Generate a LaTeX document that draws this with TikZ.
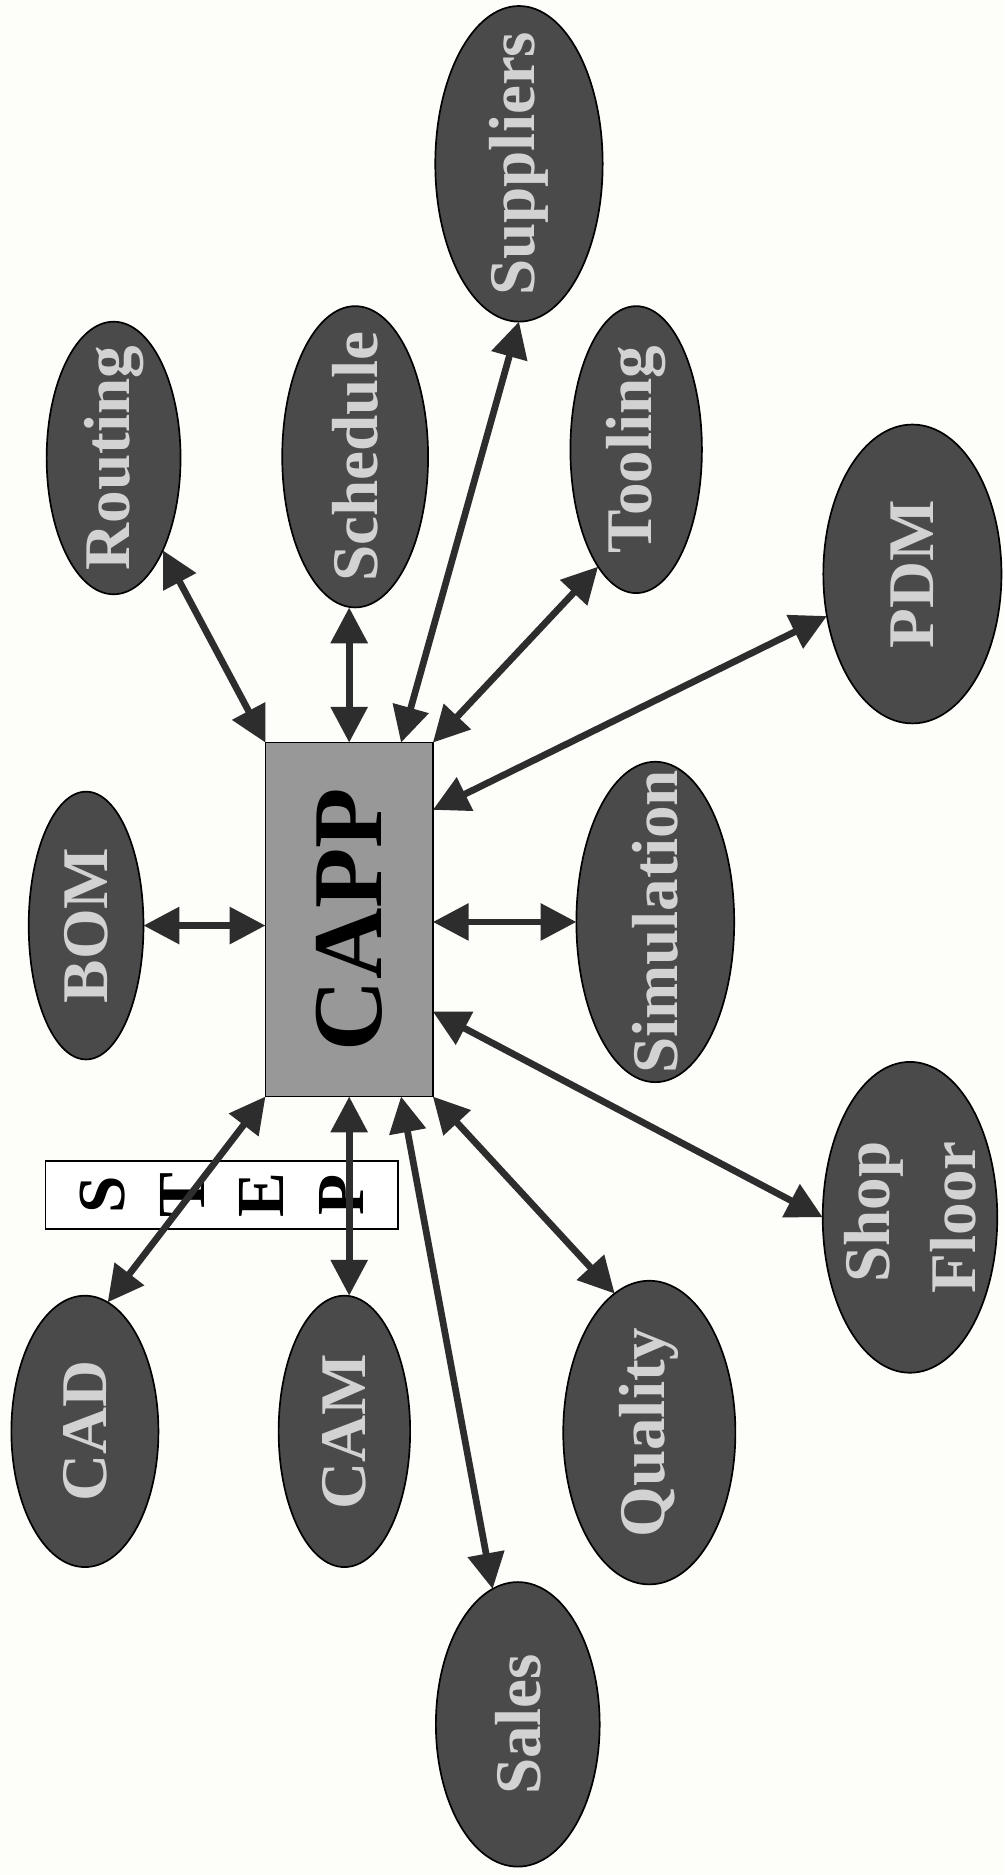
\documentclass[tikz,border=0pt]{standalone}
\usepackage{fontspec}
\setmainfont{Liberation Serif}
\usetikzlibrary{arrows.meta, shapes.geometric, calc}

\definecolor{paper}{RGB}{253,253,250}
\definecolor{ovalfill}{RGB}{74,74,74}
\definecolor{ovaltext}{RGB}{210,210,210}
\definecolor{cappfill}{RGB}{152,152,152}
\definecolor{linkcol}{RGB}{45,45,45}

\begin{document}
\begin{tikzpicture}[
  x=0.02cm, y=-0.02cm,
  oval/.style={ellipse, draw=black, line width=0.8pt, fill=ovalfill,
    inner sep=0pt, outer sep=0pt},
  ovaltxt/.style={rotate=90, text=ovaltext, align=center, inner sep=0pt,
    font=\fontsize{31}{41}\selectfont\bfseries},
  link/.style={<->, >={Triangle[length=0.6cm,width=0.6cm]},
    line width=3.2pt, draw=linkcol}
]

\useasboundingbox[fill=paper] (0,0) rectangle (840,1568);

% ── Centre box and STEP strip ────────────────────────────────────────────────
\node[draw=black, line width=0.8pt, fill=white, rotate=90,
  minimum width=1.14cm, minimum height=5.9cm, inner sep=0pt, align=center,
  font=\fontsize{32}{38}\selectfont\bfseries] (step) at (185.5,999.5) {S\\T\\E\\P};

\node[draw=black, line width=0.8pt, fill=cappfill, outer sep=0pt,
  minimum width=2.8cm, minimum height=5.92cm] (capp) at (292,769) {};
\node[rotate=90, font=\fontsize{47}{52}\selectfont\bfseries] (capp-t) at (capp) {CAPP};

% ── Upper row ────────────────────────────────────────────────────────────────
\node[oval, minimum width=2.24cm, minimum height=4.56cm] (routing) at (95,383) {};
\node[ovaltxt] (routing-t) at (routing) {Routing};

\node[oval, minimum width=2.44cm, minimum height=5.04cm] (schedule) at (297,382) {};
\node[ovaltxt] (schedule-t) at (schedule) {Schedule};

\node[oval, minimum width=2.8cm, minimum height=5.28cm] (suppliers) at (434,137) {};
\node[ovaltxt] (suppliers-t) at (suppliers) {Suppliers};

\node[oval, minimum width=2.2cm, minimum height=4.8cm] (tooling) at (532,376) {};
\node[ovaltxt] (tooling-t) at (tooling) {Tooling};

\node[oval, minimum width=2.98cm, minimum height=5cm] (pdm) at (763,480) {};
\node[ovaltxt] (pdm-t) at (pdm) {PDM};

% ── Middle row ───────────────────────────────────────────────────────────────
\node[oval, minimum width=1.92cm, minimum height=4.48cm] (bom) at (72,774) {};
\node[ovaltxt] (bom-t) at (bom) {BOM};

\node[oval, minimum width=2.64cm, minimum height=5.36cm] (simulation) at (548,771) {};
\node[ovaltxt] (simulation-t) at (simulation) {Simulation};

\node[oval, minimum width=2.92cm, minimum height=5.2cm] (shopfloor) at (761,1018) {};
\node[ovaltxt, align=right] (shopfloor-t) at (shopfloor) {Shop\\Floor};

% ── Lower row ────────────────────────────────────────────────────────────────
\node[oval, minimum width=2.46cm, minimum height=4.54cm] (cad) at (71,1197) {};
\node[ovaltxt] (cad-t) at (cad) {CAD};

\node[oval, minimum width=2.2cm, minimum height=4.54cm] (cam) at (288,1197) {};
\node[ovaltxt] (cam-t) at (cam) {CAM};

\node[oval, minimum width=2.88cm, minimum height=5.08cm] (quality) at (543,1198) {};
\node[ovaltxt] (quality-t) at (quality) {Quality};

\node[oval, minimum width=2.74cm, minimum height=4.76cm] (sales) at (433,1442) {};
\node[ovaltxt] (sales-t) at (sales) {Sales};

% ── Links ────────────────────────────────────────────────────────────────────
\draw[link] (capp.north west) -- (routing);
\draw[link] (capp.north) -- (capp.north |- schedule.south);
\draw[link] ($(capp.north west)!0.81!(capp.north east)$) -- (suppliers.south);
\draw[link] (capp.north east) -- (tooling.252);
\draw[link] ($(capp.north east)!0.19!(capp.south east)$) -- (pdm);
\draw[link] (capp.west |- bom) -- (bom);
\draw[link] (capp.east |- simulation) -- (simulation);
\draw[link] ($(capp.north east)!0.76!(capp.south east)$) -- (shopfloor.west);
\draw[link] (capp.south east) -- (quality.104);
\draw[link] ($(capp.south west)!0.81!(capp.south east)$) -- (sales);
\draw[link] (capp.south) -- (capp.south |- cam.north);
\draw[link] (capp.south west) -- (cad.80);

\end{tikzpicture}
\end{document}
